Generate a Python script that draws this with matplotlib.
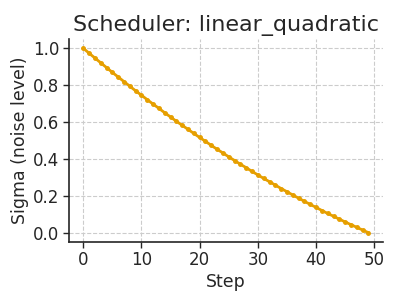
import matplotlib
matplotlib.use("Agg")
import matplotlib.pyplot as plt

# sigma values, one per step
steps = list(range(50))
sigmas = [1.000, 0.973, 0.947, 0.921, 0.895, 0.869, 0.844, 0.819, 0.794, 0.769,
          0.745, 0.721, 0.697, 0.674, 0.650, 0.627, 0.604, 0.582, 0.560, 0.538,
          0.516, 0.495, 0.473, 0.452, 0.432, 0.411, 0.391, 0.371, 0.352, 0.332,
          0.313, 0.294, 0.276, 0.258, 0.239, 0.222, 0.204, 0.187, 0.170, 0.153,
          0.137, 0.120, 0.104, 0.089, 0.073, 0.058, 0.043, 0.029, 0.014, 0.000]
xticks = [0, 10, 20, 30, 40, 50]
yticks = [0.0, 0.2, 0.4, 0.6, 0.8, 1.0]

txt = '#262626'
fig = plt.figure(figsize=(4, 3), dpi=100)
ax = fig.add_axes([0.1725, 0.195, 0.785, 0.675])

ax.plot(steps, sigmas, color='#E69F00', lw=2, marker='o', ms=2.5)
ax.set_title('Scheduler: linear_quadratic', fontsize=16, color=txt)
ax.set_xlabel('Step', fontsize=12.5, color=txt, labelpad=3)
ax.set_ylabel('Sigma (noise level)', fontsize=12.5, color=txt, labelpad=3)
ax.set_xticks(xticks)
ax.set_yticks(yticks)
ax.set_xlim(-2.45, 51.5)
ax.set_ylim(-0.048, 1.05)
ax.tick_params(labelsize=12, colors=txt, length=4, width=1, pad=3)
ax.grid(True, ls='--', color='#cccccc', lw=0.8)
ax.set_axisbelow(True)
for s in ['top', 'right']:
    ax.spines[s].set_visible(False)
for s in ['left', 'bottom']:
    ax.spines[s].set_color(txt)
    ax.spines[s].set_linewidth(1.2)

fig.savefig('out.png', dpi=100)
